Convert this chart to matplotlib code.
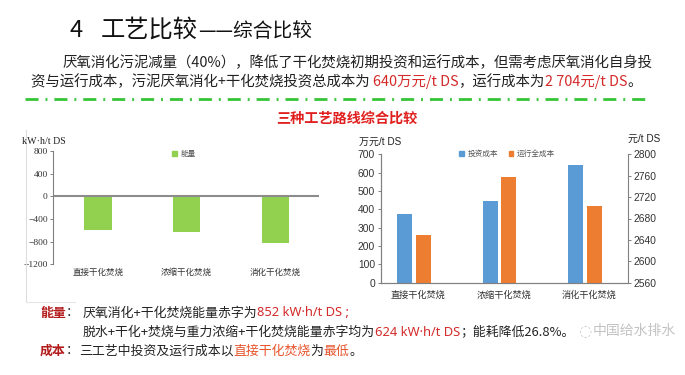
import numpy as np
import matplotlib
matplotlib.use("Agg")
import matplotlib.pyplot as plt
from matplotlib.lines import Line2D
from matplotlib.patches import Patch

plt.rcParams['font.family'] = ['Noto Sans CJK SC', 'DejaVu Sans']

# data
categories = ["直接干化焚烧", "浓缩干化焚烧", "消化干化焚烧"]
energy = [-600, -624, -820]            # kW·h/t DS
invest = [375, 448, 640]               # 万元/t DS
run_cost = [2650, 2757, 2704]          # 元/t DS
energy_ticks = [800, 400, 0, -400, -800, -1200]
invest_ticks = [0, 100, 200, 300, 400, 500, 600, 700]
cost_ticks = [2560, 2600, 2640, 2680, 2720, 2760, 2800]

GREEN = "#92d050"
BLUE = "#5b9bd5"
ORANGE = "#ed7d31"
RED = "#d42a2a"
DARKRED = "#b31b1b"
ORANGE_RED = "#e8532b"
TXT = "#222222"
GRAY = "#808080"
LATIN = ['Noto Sans', 'Noto Sans CJK SC']

W, H = 685, 375
fig = plt.figure(figsize=(W / 100, H / 100), dpi=100)
renderer = fig.canvas.get_renderer()


def fx(px):
    return px / W


def fy(py):
    return 1 - py / H


def runs(x, y, pieces, size):
    # pieces of (text, colour, weight[, family]) drawn one after another on a baseline
    for p in pieces:
        s, c, w = p[:3]
        fam = p[3] if len(p) > 3 else None
        t = fig.text(fx(x), fy(y), s, color=c, fontsize=size, fontweight=w,
                     ha='left', va='baseline', family=fam)
        x += t.get_window_extent(renderer).width
    return x


# header
fig.text(fx(70), fy(37), "4", fontsize=17, color="#111111", va='baseline', fontweight='light')
x = runs(101, 37, [("工艺比较", "#111111", 'light')], 17.5)
runs(x, 37, [("——综合比较", "#111111", 'light')], 14.2)

runs(63, 67, [("厌氧消化污泥减量（40%），降低了干化焚烧初期投资和运行成本，但需考虑厌氧消化自身投", TXT, 'normal')], 10.4)
runs(31, 86, [("资与运行成本，污泥厌氧消化+干化焚烧投资总成本为 ", TXT, 'normal'),
              ("640万元/t DS", RED, 'normal'),
              ("，运行成本为", TXT, 'normal'),
              ("2 704元/t DS", RED, 'normal'),
              ("。", TXT, 'normal')], 10.4)

fig.add_artist(Line2D([fx(25), fx(650)], [fy(99), fy(99)], color="#35c435", lw=2,
                      linestyle=(0, (4.7, 2.5, 0.7, 2.5))))

fig.text(fx(347), fy(119), "三种工艺路线综合比较", color="#e0201e", fontsize=10.2,
         fontweight='bold', ha='center', va='center')

# faint border of the pasted chart image
fig.add_artist(Line2D([fx(26), fx(26)], [fy(130), fy(302)], color="#dddddd", lw=0.8))
fig.add_artist(Line2D([fx(26), fx(75)], [fy(302), fy(302)], color="#e6e6e6", lw=0.8))

# left chart: energy
axL = fig.add_axes([fx(53.3), fy(264.3), (319 - 53.3) / W, (264.3 - 151) / H])
axL.bar(np.arange(3), energy, width=0.31, color=GREEN, label="能量")
axL.set_xlim(-0.5, 2.49)
axL.set_ylim(-1200, 800)
axL.axhline(0, color="#8c8c8c", lw=1.5)
for s in ['top', 'right', 'bottom']:
    axL.spines[s].set_visible(False)
axL.spines['left'].set_color(GRAY)
axL.spines['left'].set_linewidth(0.8)
axL.set_yticks(energy_ticks)
axL.tick_params(axis='y', length=2.5, width=0.7, color=GRAY, pad=1.5,
                labelsize=6.8, labelcolor="#333333", labelfontfamily='Liberation Serif')
axL.set_xticks(np.arange(3), categories)
axL.tick_params(axis='x', length=0, pad=2.5, labelsize=6.1, labelcolor="#333333")
axL.legend(handles=[Patch(color=GREEN, label="能量")], frameon=False, loc='center',
           bbox_to_anchor=(fx(184), fy(154.5)), bbox_transform=fig.transFigure,
           handlelength=0.6, handleheight=0.6, handletextpad=0.5,
           prop={'size': 5.5}, labelcolor="#555555")
fig.text(fx(21.7), fy(141), "kW·h/t DS", fontsize=7.2, family='Liberation Serif',
         color="#222222", va='center', ha='left')

# right chart: investment and running cost
axR = fig.add_axes([fx(380.7), fy(282.7), (627.7 - 380.7) / W, (282.7 - 154.3) / H])
axR2 = axR.twinx()
xs = np.arange(3)
axR.bar(xs - 0.108, invest, width=0.175, color=BLUE)
axR2.bar(xs + 0.108, run_cost, width=0.175, color=ORANGE)
axR.set_xlim(-0.39, 2.5)
axR.set_ylim(0, 700)
axR2.set_ylim(2560, 2800)
axR.set_yticks(invest_ticks)
axR2.set_yticks(cost_ticks)
narrow = ['Liberation Sans Narrow', 'Liberation Sans']
for a in (axR, axR2):
    for s in a.spines.values():
        s.set_color(GRAY)
        s.set_linewidth(0.8)
    a.spines['top'].set_visible(False)
    a.tick_params(axis='y', length=2.5, width=0.7, color=GRAY, pad=1.5,
                  labelsize=7.4, labelcolor="#333333", labelfontfamily=narrow)
axR.spines['right'].set_visible(False)
axR.set_xticks(xs + 0.05, categories)
axR.tick_params(axis='x', length=0, pad=5.5, labelsize=6.6, labelcolor="#333333")
axR.legend(handles=[Patch(color=BLUE, label="投资成本"), Patch(color=ORANGE, label="运行全成本")],
           frameon=False, loc='center', ncol=2, bbox_to_anchor=(fx(507), fy(154)),
           bbox_transform=fig.transFigure, handlelength=0.6, handleheight=0.6,
           handletextpad=0.5, columnspacing=1.4, prop={'size': 5.5}, labelcolor="#555555")
fig.text(fx(359), fy(141.7), "万元/t DS", fontsize=7.2, family=narrow + ['Noto Sans CJK SC'],
         color="#222222", va='center', ha='left')
fig.text(fx(628), fy(139), "元/t DS", fontsize=7.2, family=narrow + ['Noto Sans CJK SC'],
         color="#222222", va='center', ha='left')

# bottom notes
runs(40, 316.5, [("能量", DARKRED, 'bold'), ("：", TXT, 'normal')], 9.3)
runs(82.7, 316.5, [("厌氧消化+干化焚烧能量赤字为", TXT, 'normal'),
                   ("852 kW·h/t DS ;", RED, 'normal', LATIN)], 9.3)
x = runs(82.7, 335.5, [("脱水+干化+焚烧与重力浓缩+干化焚烧能量赤字均为", TXT, 'normal'),
                       ("624 kW·h/t DS", RED, 'normal', LATIN),
                       ("；能耗降低26.8%。", TXT, 'normal')], 9.3)
runs(40, 354.5, [("成本", DARKRED, 'bold'), ("：", TXT, 'normal'),
                 ("三工艺中投资及运行成本以", TXT, 'normal'),
                 ("直接干化焚烧", ORANGE_RED, 'normal'),
                 ("为", TXT, 'normal'),
                 ("最低", ORANGE_RED, 'normal'),
                 ("。", TXT, 'normal')], 9.3)

# watermark, placed just after the second note line
fig.text(fx(x + 4), fy(332), "◌", fontsize=11, color="#9a9a9a", alpha=0.5,
         va='center', ha='left', family='DejaVu Sans')
fig.text(fx(x + 18), fy(331), "中国给水排水", fontsize=10, color="#9a9a9a", alpha=0.6,
         va='center', ha='left')

fig.savefig("out.png", dpi=100)
